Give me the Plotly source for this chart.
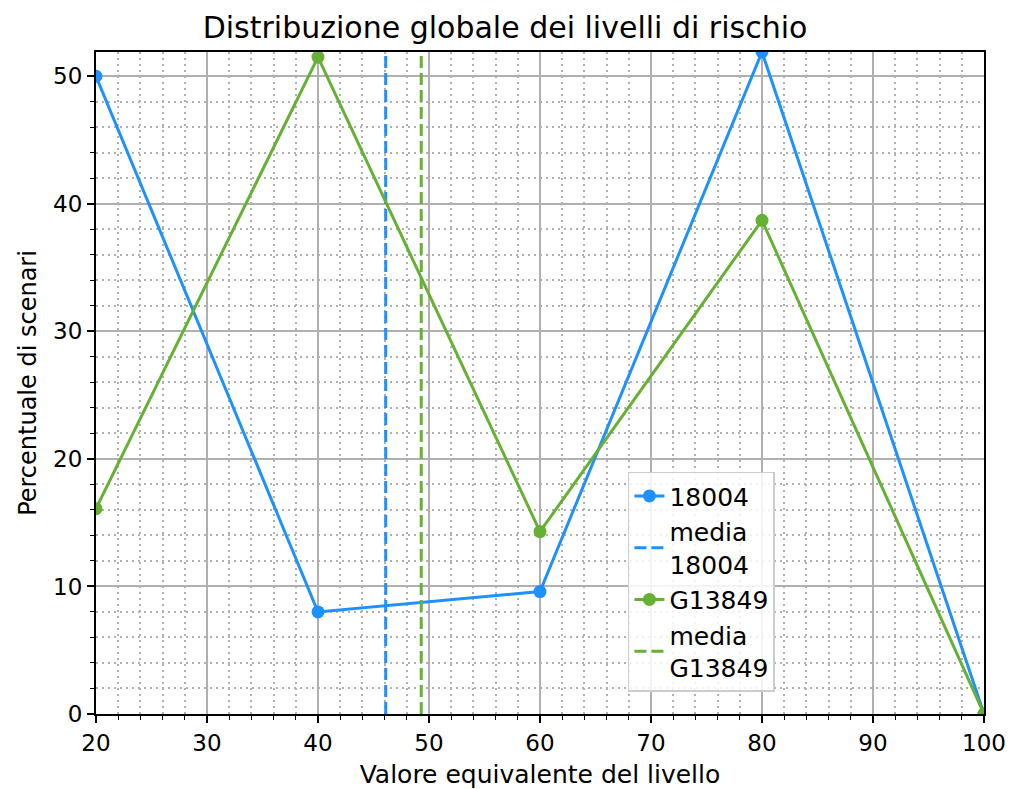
import plotly.graph_objects as go

levels = [20, 40, 60, 80, 100]
s18004 = [50.0, 8.0, 9.6, 51.9, 0.0]
g13849 = [16.1, 51.5, 14.3, 38.7, 0.0]
mean_18004 = 46.1
mean_g13849 = 49.3

blue = "#1E90FF"
green = "#66B033"
ytop = max(max(s18004), max(g13849))

fig = go.Figure()
fig.add_trace(go.Scatter(x=levels, y=s18004, mode="lines+markers", name="18004",
                         line=dict(color=blue, width=3), marker=dict(size=13, color=blue)))
fig.add_trace(go.Scatter(x=[mean_18004, mean_18004], y=[0, ytop], mode="lines", name="media<br>18004",
                         line=dict(color=blue, width=3, dash="12px,5px")))
fig.add_trace(go.Scatter(x=levels, y=g13849, mode="lines+markers", name="G13849",
                         line=dict(color=green, width=3), marker=dict(size=13, color=green)))
fig.add_trace(go.Scatter(x=[mean_g13849, mean_g13849], y=[0, ytop], mode="lines", name="media<br>G13849",
                         line=dict(color=green, width=3, dash="12px,5px")))

axis_common = dict(
    showline=True, linecolor="black", linewidth=2, mirror=True,
    ticks="outside", ticklen=7, tickwidth=1.5, tickcolor="black",
    showgrid=True, gridcolor="#b0b0b0", gridwidth=1.5,
    zeroline=False, automargin=False,
    tickfont=dict(size=23, color="black"),
    minor=dict(ticks="outside", ticklen=4, tickwidth=1, tickcolor="black",
               showgrid=True, gridcolor="#b0b0b0", griddash="2px,4px", gridwidth=1.5),
)

fig.update_layout(
    width=1010, height=789,
    margin=dict(l=96, r=26, t=52, b=75),
    paper_bgcolor="white", plot_bgcolor="white",
    font=dict(family="DejaVu Sans", color="black"),
    title=dict(text="Distribuzione globale dei livelli di rischio", x=0.5, xanchor="center",
               y=0.965, yanchor="middle", font=dict(size=30)),
    xaxis=dict(range=[20, 100], dtick=10, tick0=0,
               title=dict(text="Valore equivalente del livello", font=dict(size=25), standoff=12),
               **axis_common),
    yaxis=dict(range=[0, ytop], dtick=10, tick0=0,
               title=dict(text="Percentuale di scenari", font=dict(size=24), standoff=10),
               **axis_common),
    legend=dict(x=0.599, y=0.366, xanchor="left", yanchor="top",
                bgcolor="rgba(255,255,255,0.85)", bordercolor="#cccccc", borderwidth=1.5,
                font=dict(size=25), tracegroupgap=0),
    showlegend=True,
)
fig.update_xaxes(minor=dict(dtick=2))
fig.update_yaxes(minor=dict(dtick=2))

fig.write_html(
    "out.html",
    config={"displayModeBar": False},
    post_script="document.body.style.margin='0';document.body.style.overflow='hidden';",
)
